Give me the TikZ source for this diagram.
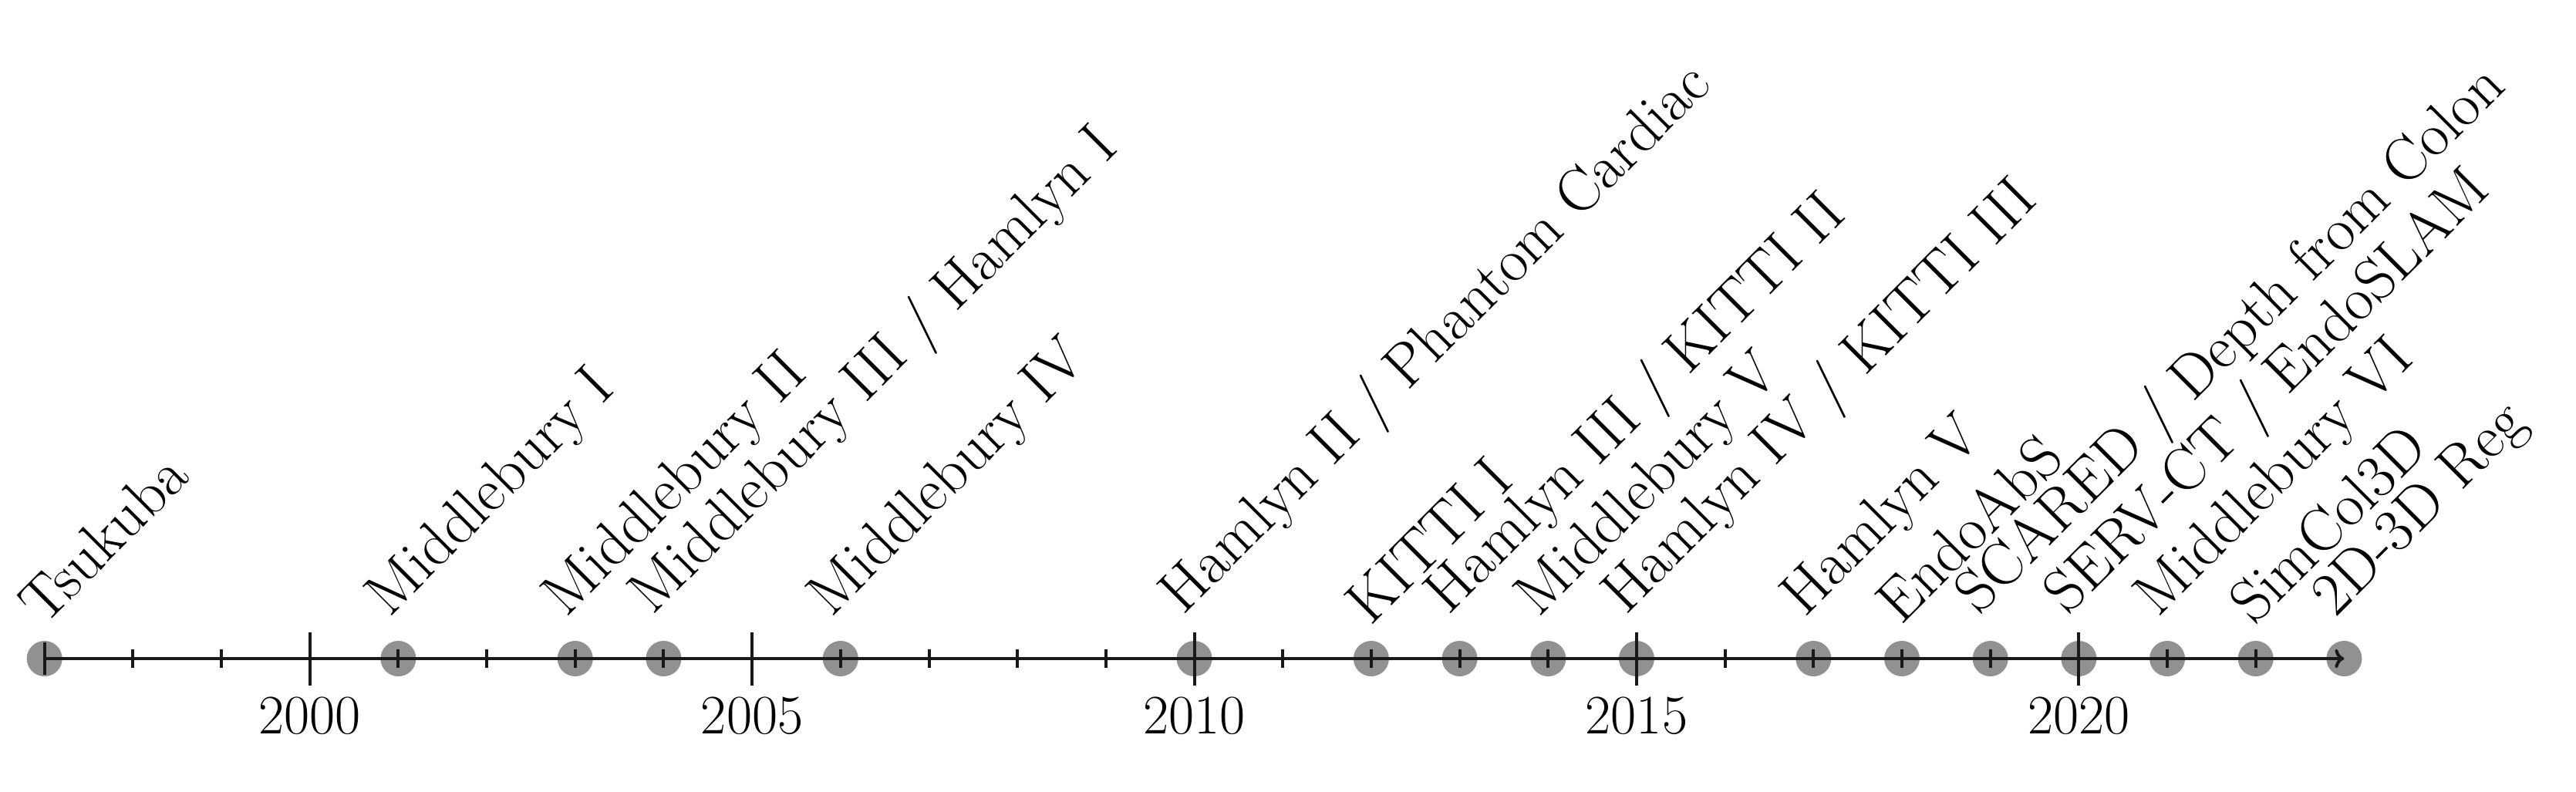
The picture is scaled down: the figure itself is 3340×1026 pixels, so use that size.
\documentclass[tikz,border=0pt]{standalone}
\usepackage{fontspec}
\usetikzlibrary{arrows.meta}
\begin{document}
\begin{tikzpicture}[x=0.01cm,y=-0.01cm,
  font=\fontsize{20.5}{24}\selectfont,
  dot/.style={circle, fill=black!43, draw=none, minimum size=0.46cm, inner sep=0pt},
  lbl/.style={rotate=45, anchor=south west, inner sep=0.3333em, font=\fontsize{22.45}{27}\selectfont},
  yearlbl/.style={anchor=base, inner sep=0pt},
  axisline/.style={line width=0.04cm, draw=black!90},
  tickline/.style={line width=0.04cm, draw=black!90}]
\useasboundingbox (0,0) rectangle (3340,1026);
% dataset markers
\foreach \yr in {1997,2001,2003,2004,2006,2010,2012,2013,2014,2015,2017,2018,2019,2020,2021,2022,2023}
  \node[dot] (c\yr) at ({57.7+(\yr-1997)*114.68},854) {};
% axis
\draw[axisline, -{To[length=3.4pt,width=6.8pt]}] (c1997.center) -- (c2023.center);
% ticks
\draw[tickline] (57.7,833) -- (57.7,875);
\foreach \yr in {1998,...,2022}{
  \pgfmathtruncatemacro{\m}{mod(\yr,5)}
  \ifnum\m=0
    \draw[tickline] ({57.7+(\yr-1997)*114.68},819.5) -- ({57.7+(\yr-1997)*114.68},888.5);
  \else
    \draw[tickline] ({57.7+(\yr-1997)*114.68},842) -- ({57.7+(\yr-1997)*114.68},866);
  \fi
}
% year labels
\foreach \yr in {2000,2005,2010,2015,2020}
  \node[yearlbl] (y\yr) at ({57.7+(\yr-1997)*114.68},951) {\yr};
% dataset labels
\node[lbl] (l1997) at (c1997.north) {Tsukuba};
\node[lbl] (l2001) at (c2001.north) {Middlebury I};
\node[lbl] (l2003) at (c2003.north) {Middlebury II};
\node[lbl] (l2004) at (c2004.north) {Middlebury III / Hamlyn I};
\node[lbl] (l2006) at (c2006.north) {Middlebury IV};
\node[lbl] (l2010) at (c2010.north) {Hamlyn II / Phantom Cardiac};
\node[lbl] (l2012) at (c2012.north) {KITTI I};
\node[lbl] (l2013) at (c2013.north) {Hamlyn III / KITTI II};
\node[lbl] (l2014) at (c2014.north) {Middlebury V};
\node[lbl] (l2015) at (c2015.north) {Hamlyn IV / KITTI III};
\node[lbl] (l2017) at (c2017.north) {Hamlyn V};
\node[lbl] (l2018) at (c2018.north) {EndoAbS};
\node[lbl] (l2019) at (c2019.north) {SCARED / Depth from Colon};
\node[lbl] (l2020) at (c2020.north) {SERV-CT / EndoSLAM};
\node[lbl] (l2021) at (c2021.north) {Middlebury VI};
\node[lbl] (l2022) at (c2022.north) {SimCol3D};
\node[lbl] (l2023) at (c2023.north) {2D-3D Reg};
\end{tikzpicture}
\end{document}
